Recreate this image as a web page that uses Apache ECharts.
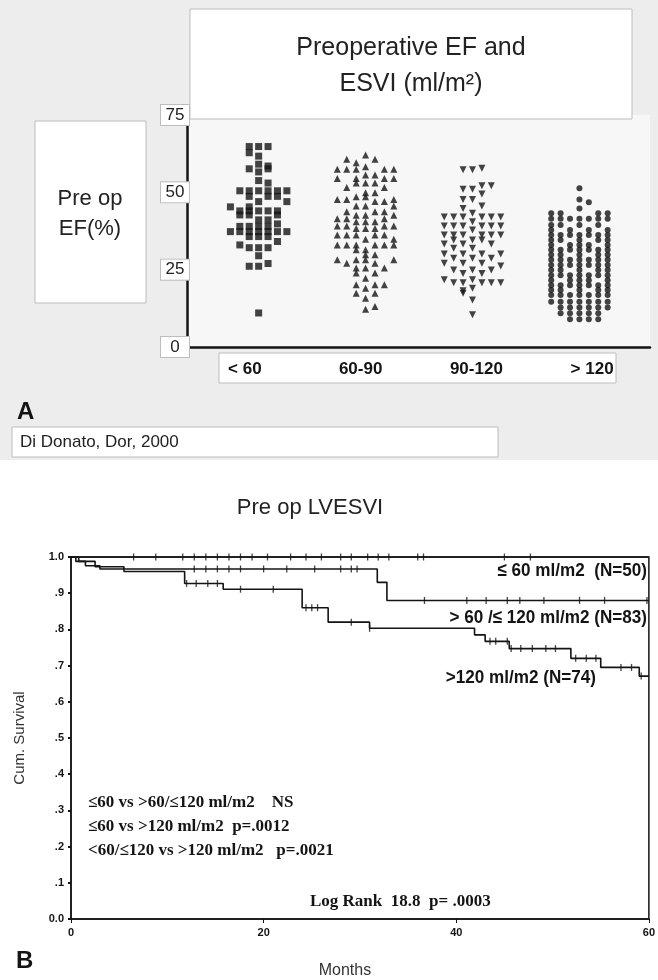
<!DOCTYPE html>
<html>
<head>
<meta charset="utf-8">
<script src="https://cdn.jsdelivr.net/npm/echarts@6/dist/echarts.min.js"></script>
<style>
  html, body { margin: 0; padding: 0; background: #fff; }
  #chart {
    width: 658px; height: 980px;
    background: linear-gradient(#ededed 0, #ededed 460px, #fff 460px);
  }
</style>
</head>
<body>
<div id="chart"></div>
<script>
// ---- panel A: preop EF by ESVI group, points are [slot, EF%]
const categories = ['< 60', '60-90', '90-120', '> 120'];

const efLt60 = [
  [-1, 64.8], [0, 64.8], [1, 64.8], [-1, 62.8], [0, 61.7], [0, 59.1], [1, 58.5],
  [-1, 57.6], [1, 57.6], [0, 56.6], [0, 53.8], [1, 53],
  [-2, 50.5], [-1, 50.5], [0, 50.5], [1, 50.5], [2, 50.5], [3, 50.5],
  [-1, 48.7], [1, 48.7], [2, 48.7], [0, 47], [3, 47], [-3, 45.3], [-1, 45.3],
  [-2, 44], [-1, 44], [0, 44], [1, 44], [2, 44], [-2, 42.7], [-1, 42.7], [2, 42.7],
  [0, 41.1], [1, 41.1], [2, 39.8], [-2, 39], [-1, 39], [0, 39], [1, 39],
  [-3, 37.3], [-2, 37.3], [-1, 37.3], [0, 37.3], [1, 37.3], [2, 37.3], [3, 37.3],
  [-1, 35.7], [0, 35.7], [1, 35.7], [2, 34.1], [-2, 33],
  [-1, 32.1], [0, 32.1], [1, 32.1], [0, 29.5], [1, 27], [-1, 26.1], [0, 26.1],
  [0, 11]
];

const ef60to90 = [
  [0, 62.1], [-2, 60.7], [1, 60.7], [-1, 59.6], [0, 58.3],
  [-3, 57.5], [-2, 57.5], [-1, 57.5], [2, 57.5], [3, 57.5], [0, 55.6], [1, 55.6],
  [-3, 54.5], [-1, 54.5], [2, 54.5], [3, 54.5], [-1, 53], [0, 53], [1, 53],
  [-2, 51.6], [2, 51.6], [0, 49.9], [1, 49.9], [-1, 48.6], [0, 48.6],
  [-3, 47.7], [-2, 47.7], [3, 47.7], [1, 47], [2, 47], [-1, 45.6], [0, 45.6], [3, 45.6],
  [-2, 43.7], [1, 43.7], [2, 43.7], [-1, 42.6], [0, 42.6], [3, 42.6],
  [-3, 41.5], [-2, 41.5], [2, 41.5], [-1, 40.5], [0, 40.5], [1, 40.5],
  [-3, 39.1], [-2, 39.1], [2, 39.1], [3, 39.1], [-1, 38.3], [0, 38.3], [1, 38.3],
  [-3, 36.2], [-2, 36.2], [-1, 36.2], [1, 36.2], [2, 36.2], [0, 34.8], [3, 34.8],
  [-3, 33], [-2, 33], [-1, 33], [1, 33], [2, 33], [3, 33], [-1, 31.4], [0, 31.4],
  [0, 29.8], [1, 29.8], [-3, 28.2], [-1, 28.2], [0, 28.2], [3, 28.2], [-2, 27.1], [1, 27.1],
  [-1, 25.5], [0, 25.5], [2, 25.5], [-1, 23.9], [1, 23.9], [0, 22.2],
  [-1, 20.1], [1, 20.1], [2, 20.1], [0, 19], [-1, 17.4], [1, 17.4], [0, 15.8],
  [1, 13.1], [0, 12.2]
];

const ef90to120 = [
  [-1, 57.3], [0, 57.3], [1, 57.8], [1, 52.1], [2, 52.1], [-1, 51], [0, 51], [1, 49.5],
  [-1, 47.7], [0, 47.7], [1, 45.6], [-1, 44.8], [0, 43.2],
  [-3, 42], [-2, 42], [-1, 42], [1, 42], [2, 42], [3, 42], [0, 40.5],
  [-3, 39.1], [-2, 39.1], [-1, 39.1], [1, 39.1], [2, 39.1], [3, 39.1], [0, 37.8],
  [-3, 36.2], [-2, 36.2], [-1, 36.2], [1, 36.2], [2, 36.2], [3, 36.2],
  [-2, 34.6], [0, 34.6], [1, 34.6], [-3, 33.3], [-1, 33.3], [2, 33.3], [-2, 31.9], [0, 31.9],
  [-3, 30.1], [-1, 30.1], [1, 30.1], [3, 30.1], [-2, 28.7], [0, 28.7], [2, 28.7],
  [-3, 27.1], [-1, 27.1], [1, 27.1], [3, 26.2], [-2, 24.9], [0, 24.9], [2, 24.9],
  [-1, 23.8], [1, 23.8], [-3, 21.7], [0, 21.7],
  [-2, 20.8], [-1, 20.8], [1, 20.8], [2, 20.8], [3, 20.8], [0, 19], [-1, 18.2],
  [-1, 17.4], [0, 15.2], [0, 10.4]
];

const efGt120 = [
  [0, 51.3], [0, 47.7], [1, 46.8], [0, 44.8],
  [-3, 43.2], [-2, 43.2], [2, 43.2], [3, 43.2],
  [-3, 41.5], [-2, 41.5], [-1, 41.5], [0, 41.5], [1, 41.5], [2, 41.5], [3, 41.5],
  [-3, 39.4], [-2, 39.4], [0, 39.4], [2, 39.4], [-3, 37.8], [-1, 37.8], [1, 37.8], [3, 37.8],
  [-3, 36.2], [-2, 36.2], [-1, 36.2], [0, 36.2], [1, 36.2], [2, 36.2], [3, 36.2],
  [-3, 34.6], [-2, 34.6], [0, 34.6], [2, 34.6], [3, 34.6],
  [-3, 33], [-1, 33], [0, 33], [1, 33], [3, 33],
  [-3, 31.4], [-2, 31.4], [-1, 31.4], [0, 31.4], [1, 31.4], [2, 31.4], [3, 31.4],
  [-3, 29.8], [-2, 29.8], [0, 29.8], [2, 29.8], [3, 29.8],
  [-3, 28.2], [-2, 28.2], [-1, 28.2], [0, 28.2], [1, 28.2], [2, 28.2], [3, 28.2],
  [-3, 26.5], [-2, 26.5], [-1, 26.5], [0, 26.5], [1, 26.5], [2, 26.5], [3, 26.5],
  [-3, 24.9], [-2, 24.9], [0, 24.9], [2, 24.9], [3, 24.9],
  [-3, 23.2], [-2, 23.2], [-1, 23.2], [0, 23.2], [1, 23.2], [2, 23.2], [3, 23.2],
  [-3, 21.6], [-1, 21.6], [0, 21.6], [1, 21.6], [3, 21.6],
  [-3, 20], [-2, 20], [-1, 20], [0, 20], [1, 20], [2, 20], [3, 20],
  [-3, 18.4], [-2, 18.4], [0, 18.4], [2, 18.4], [3, 18.4],
  [-3, 16.8], [-2, 16.8], [-1, 16.8], [0, 16.8], [1, 16.8], [2, 16.8], [3, 16.8],
  [-3, 14.6], [-2, 14.6], [-1, 14.6], [0, 14.6], [1, 14.6], [2, 14.6], [3, 14.6],
  [-2, 12.8], [-1, 12.8], [0, 12.8], [1, 12.8], [2, 12.8], [3, 12.8],
  [-2, 10.9], [-1, 10.9], [0, 10.9], [1, 10.9], [2, 10.9],
  [-1, 9], [0, 9], [1, 9], [2, 9]
];

// ---- panel B: Kaplan-Meier steps [month, cum. survival] and censor months
const survLe60 = [[0, 1], [60, 1]];
const surv60to120 = [[0, 1], [0.5, 0.988], [1.5, 0.976], [3, 0.967], [31.8, 0.93], [32.8, 0.88], [60, 0.88]];
const survGt120 = [[0, 1], [0.8, 0.988], [2.5, 0.973], [5.5, 0.96], [11.8, 0.927], [15.8, 0.911],
  [24, 0.86], [26.7, 0.82], [31, 0.803], [41.9, 0.785], [43, 0.767], [45.5, 0.747],
  [51.9, 0.72], [55, 0.695], [59, 0.671], [60, 0.671]];

const censLe60 = [6.5, 8.8, 11.6, 12.8, 14, 15.2, 16.4, 17.6, 18.8, 20.4, 22.8, 24.4, 26, 28,
  29.1, 30.8, 31.9, 33, 36, 36.6, 45, 47.7];
const cens60to120 = [12.8, 14, 15.2, 16.4, 17.6, 20, 22.4, 25.3, 28, 29.1, 29.7,
  36.7, 41.1, 43.1, 45.3, 46.6, 49.1, 52.8, 55.4, 59.8];
const censGt120 = [12, 13, 14.2, 15.2, 17.6, 21, 24.4, 25, 25.6, 29.1, 31, 43.5, 44.1,
  45.3, 45.7, 46.7, 47.9, 49.3, 50.3, 52.4, 53.5, 54.5, 57.1, 58.2, 59.2];

const SLOT = 0.088;
const INK = '#141414';
const SANS = '"Liberation Sans", Arial, sans-serif';
const SERIF = '"Liberation Serif", "Times New Roman", serif';

function swarm(points, col) {
  return points.map(([s, ef]) => [col + s * SLOT, ef]);
}
function survAt(curve, m) {
  let v = curve[0][1];
  for (const p of curve) { if (p[0] <= m) v = p[1]; }
  return v;
}
function censored(curve, months) {
  return months.map(m => [m, survAt(curve, m)]);
}

const chart = echarts.init(document.getElementById('chart'));

const box = (x, y, w, h) => ({
  type: 'rect', z: 50, shape: { x, y, width: w, height: h },
  style: { fill: '#fff', stroke: '#bdbdbd', lineWidth: 1 }
});
const txt = (x, y, text, font, extra) => ({
  type: 'text', z: 60, x, y,
  style: Object.assign({ text, font, fill: INK, textAlign: 'left', textVerticalAlign: 'middle' }, extra || {})
});

const option = {
  backgroundColor: 'transparent',
  animation: false,
  grid: [
    { left: 187, right: 8, top: 115, bottom: 633, show: true, backgroundColor: '#f7f7f7', borderWidth: 0 },
    { left: 71, right: 8, top: 557, bottom: 56, show: true, backgroundColor: 'transparent', borderColor: INK, borderWidth: 1.5 }
  ],
  xAxis: [
    { gridIndex: 0, type: 'value', min: -0.67, max: 3.66,
      axisLine: { show: true, onZero: false, lineStyle: { color: INK, width: 2.5 } },
      axisTick: { show: false }, axisLabel: { show: false }, splitLine: { show: false } },
    { gridIndex: 0, type: 'category', data: categories, position: 'bottom',
      axisLine: { show: false }, axisTick: { show: false }, splitLine: { show: false },
      axisLabel: { margin: 14, color: INK, fontFamily: SANS, fontWeight: 'bold', fontSize: 17 } },
    { gridIndex: 1, type: 'value', min: 0, max: 60, interval: 20,
      name: 'Months', nameLocation: 'middle', nameGap: 44,
      nameTextStyle: { color: '#333', fontFamily: SANS, fontSize: 16, padding: [0, 30, 0, 0] },
      axisLine: { show: true, onZero: false, lineStyle: { color: INK, width: 1.5 } },
      axisTick: { show: true, length: 4, lineStyle: { color: INK } },
      axisLabel: { margin: 8, color: INK, fontFamily: SANS, fontWeight: 'bold', fontSize: 11 },
      splitLine: { show: false } }
  ],
  yAxis: [
    { gridIndex: 0, type: 'value', min: 0, max: 75, interval: 25,
      axisLine: { show: true, onZero: false, lineStyle: { color: INK, width: 2.5 } },
      axisTick: { show: true, length: 6, lineStyle: { color: INK, width: 2 } },
      axisLabel: { margin: 12, color: '#222', fontFamily: SANS, fontSize: 17,
        backgroundColor: '#fff', borderColor: '#bdbdbd', borderWidth: 1,
        padding: [2, 3, 1, 3], width: 22, align: 'center' },
      splitLine: { show: false } },
    { gridIndex: 1, type: 'value', min: 0, max: 1, interval: 0.1,
      name: 'Cum. Survival', nameLocation: 'middle', nameGap: 44, nameRotate: 90,
      nameTextStyle: { color: '#333', fontFamily: SANS, fontSize: 15 },
      axisLine: { show: true, onZero: false, lineStyle: { color: INK, width: 1.5 } },
      axisTick: { show: true, length: 3, lineStyle: { color: INK, width: 2 } },
      axisLabel: { margin: 7, color: INK, fontFamily: SANS, fontWeight: 'bold', fontSize: 11,
        formatter: v => v >= 0.999 ? '1.0' : v <= 0.001 ? '0.0' : '.' + Math.round(v * 10) },
      splitLine: { show: false } }
  ],
  series: [
    { type: 'scatter', xAxisIndex: 0, yAxisIndex: 0, symbol: 'rect', symbolSize: 7,
      itemStyle: { color: INK }, data: swarm(efLt60, 0) },
    { type: 'scatter', xAxisIndex: 0, yAxisIndex: 0, symbol: 'triangle', symbolSize: 7,
      itemStyle: { color: INK }, data: swarm(ef60to90, 1) },
    { type: 'scatter', xAxisIndex: 0, yAxisIndex: 0, symbol: 'triangle', symbolRotate: 180, symbolSize: 7,
      itemStyle: { color: INK }, data: swarm(ef90to120, 2) },
    { type: 'scatter', xAxisIndex: 0, yAxisIndex: 0, symbol: 'circle', symbolSize: 6,
      itemStyle: { color: INK }, data: swarm(efGt120, 3) },

    { type: 'line', xAxisIndex: 2, yAxisIndex: 1, step: 'end', showSymbol: false, clip: false,
      lineStyle: { color: INK, width: 1.6 }, data: survLe60 },
    { type: 'line', xAxisIndex: 2, yAxisIndex: 1, step: 'end', showSymbol: false, clip: false,
      lineStyle: { color: INK, width: 1.6 }, data: surv60to120 },
    { type: 'line', xAxisIndex: 2, yAxisIndex: 1, step: 'end', showSymbol: false, clip: false,
      lineStyle: { color: INK, width: 1.6 }, data: survGt120 },
    { type: 'scatter', xAxisIndex: 2, yAxisIndex: 1, symbol: 'rect', symbolSize: [1.3, 7], clip: false,
      itemStyle: { color: INK }, data: censored(survLe60, censLe60) },
    { type: 'scatter', xAxisIndex: 2, yAxisIndex: 1, symbol: 'rect', symbolSize: [1.3, 7], clip: false,
      itemStyle: { color: INK }, data: censored(surv60to120, cens60to120) },
    { type: 'scatter', xAxisIndex: 2, yAxisIndex: 1, symbol: 'rect', symbolSize: [1.3, 7], clip: false,
      itemStyle: { color: INK }, data: censored(survGt120, censGt120) }
  ],
  graphic: [
    // panel A frames and labels
    box(190, 9, 442, 110),
    txt(411, 48, 'Preoperative EF and', '25px ' + SANS, { textAlign: 'center', fill: '#222' }),
    txt(411, 84, 'ESVI (ml/m²)', '25px ' + SANS, { textAlign: 'center', fill: '#222' }),
    box(35, 121, 111, 182),
    txt(90, 199, 'Pre op', '22px ' + SANS, { textAlign: 'center', fill: '#222' }),
    txt(90, 229, 'EF(%)', '22px ' + SANS, { textAlign: 'center', fill: '#222' }),
    Object.assign(box(219, 353, 397, 30), { zlevel: -1, z: 0 }),
    txt(17, 412, 'A', 'bold 24px ' + SANS),
    box(12, 427, 486, 30),
    txt(20, 442, 'Di Donato, Dor, 2000', '17px ' + SANS, { fill: '#222' }),

    // panel B texts
    txt(310, 508, 'Pre op LVESVI', '22px ' + SANS, { textAlign: 'center', fill: '#222' }),
    Object.assign(txt(647, 571, '≤ 60 ml/m2  (N=50)', 'bold 19px ' + SANS, { textAlign: 'right' }), { scaleX: 0.9 }),
    Object.assign(txt(647, 618, '> 60 /≤ 120 ml/m2 (N=83)', 'bold 19px ' + SANS, { textAlign: 'right' }), { scaleX: 0.9 }),
    Object.assign(txt(596, 678, '>120 ml/m2 (N=74)', 'bold 19px ' + SANS, { textAlign: 'right' }), { scaleX: 0.9 }),
    txt(88, 803, '≤60 vs >60/≤120 ml/m2    NS', 'bold 17px ' + SERIF),
    txt(88, 827, '≤60 vs >120 ml/m2  p=.0012', 'bold 17px ' + SERIF),
    txt(88, 851, '<60/≤120 vs >120 ml/m2   p=.0021', 'bold 17px ' + SERIF),
    txt(310, 902, 'Log Rank  18.8  p= .0003', 'bold 17px ' + SERIF),
    txt(16, 961, 'B', 'bold 24px ' + SANS)
  ]
};

chart.setOption(option);
</script>
</body>
</html>
